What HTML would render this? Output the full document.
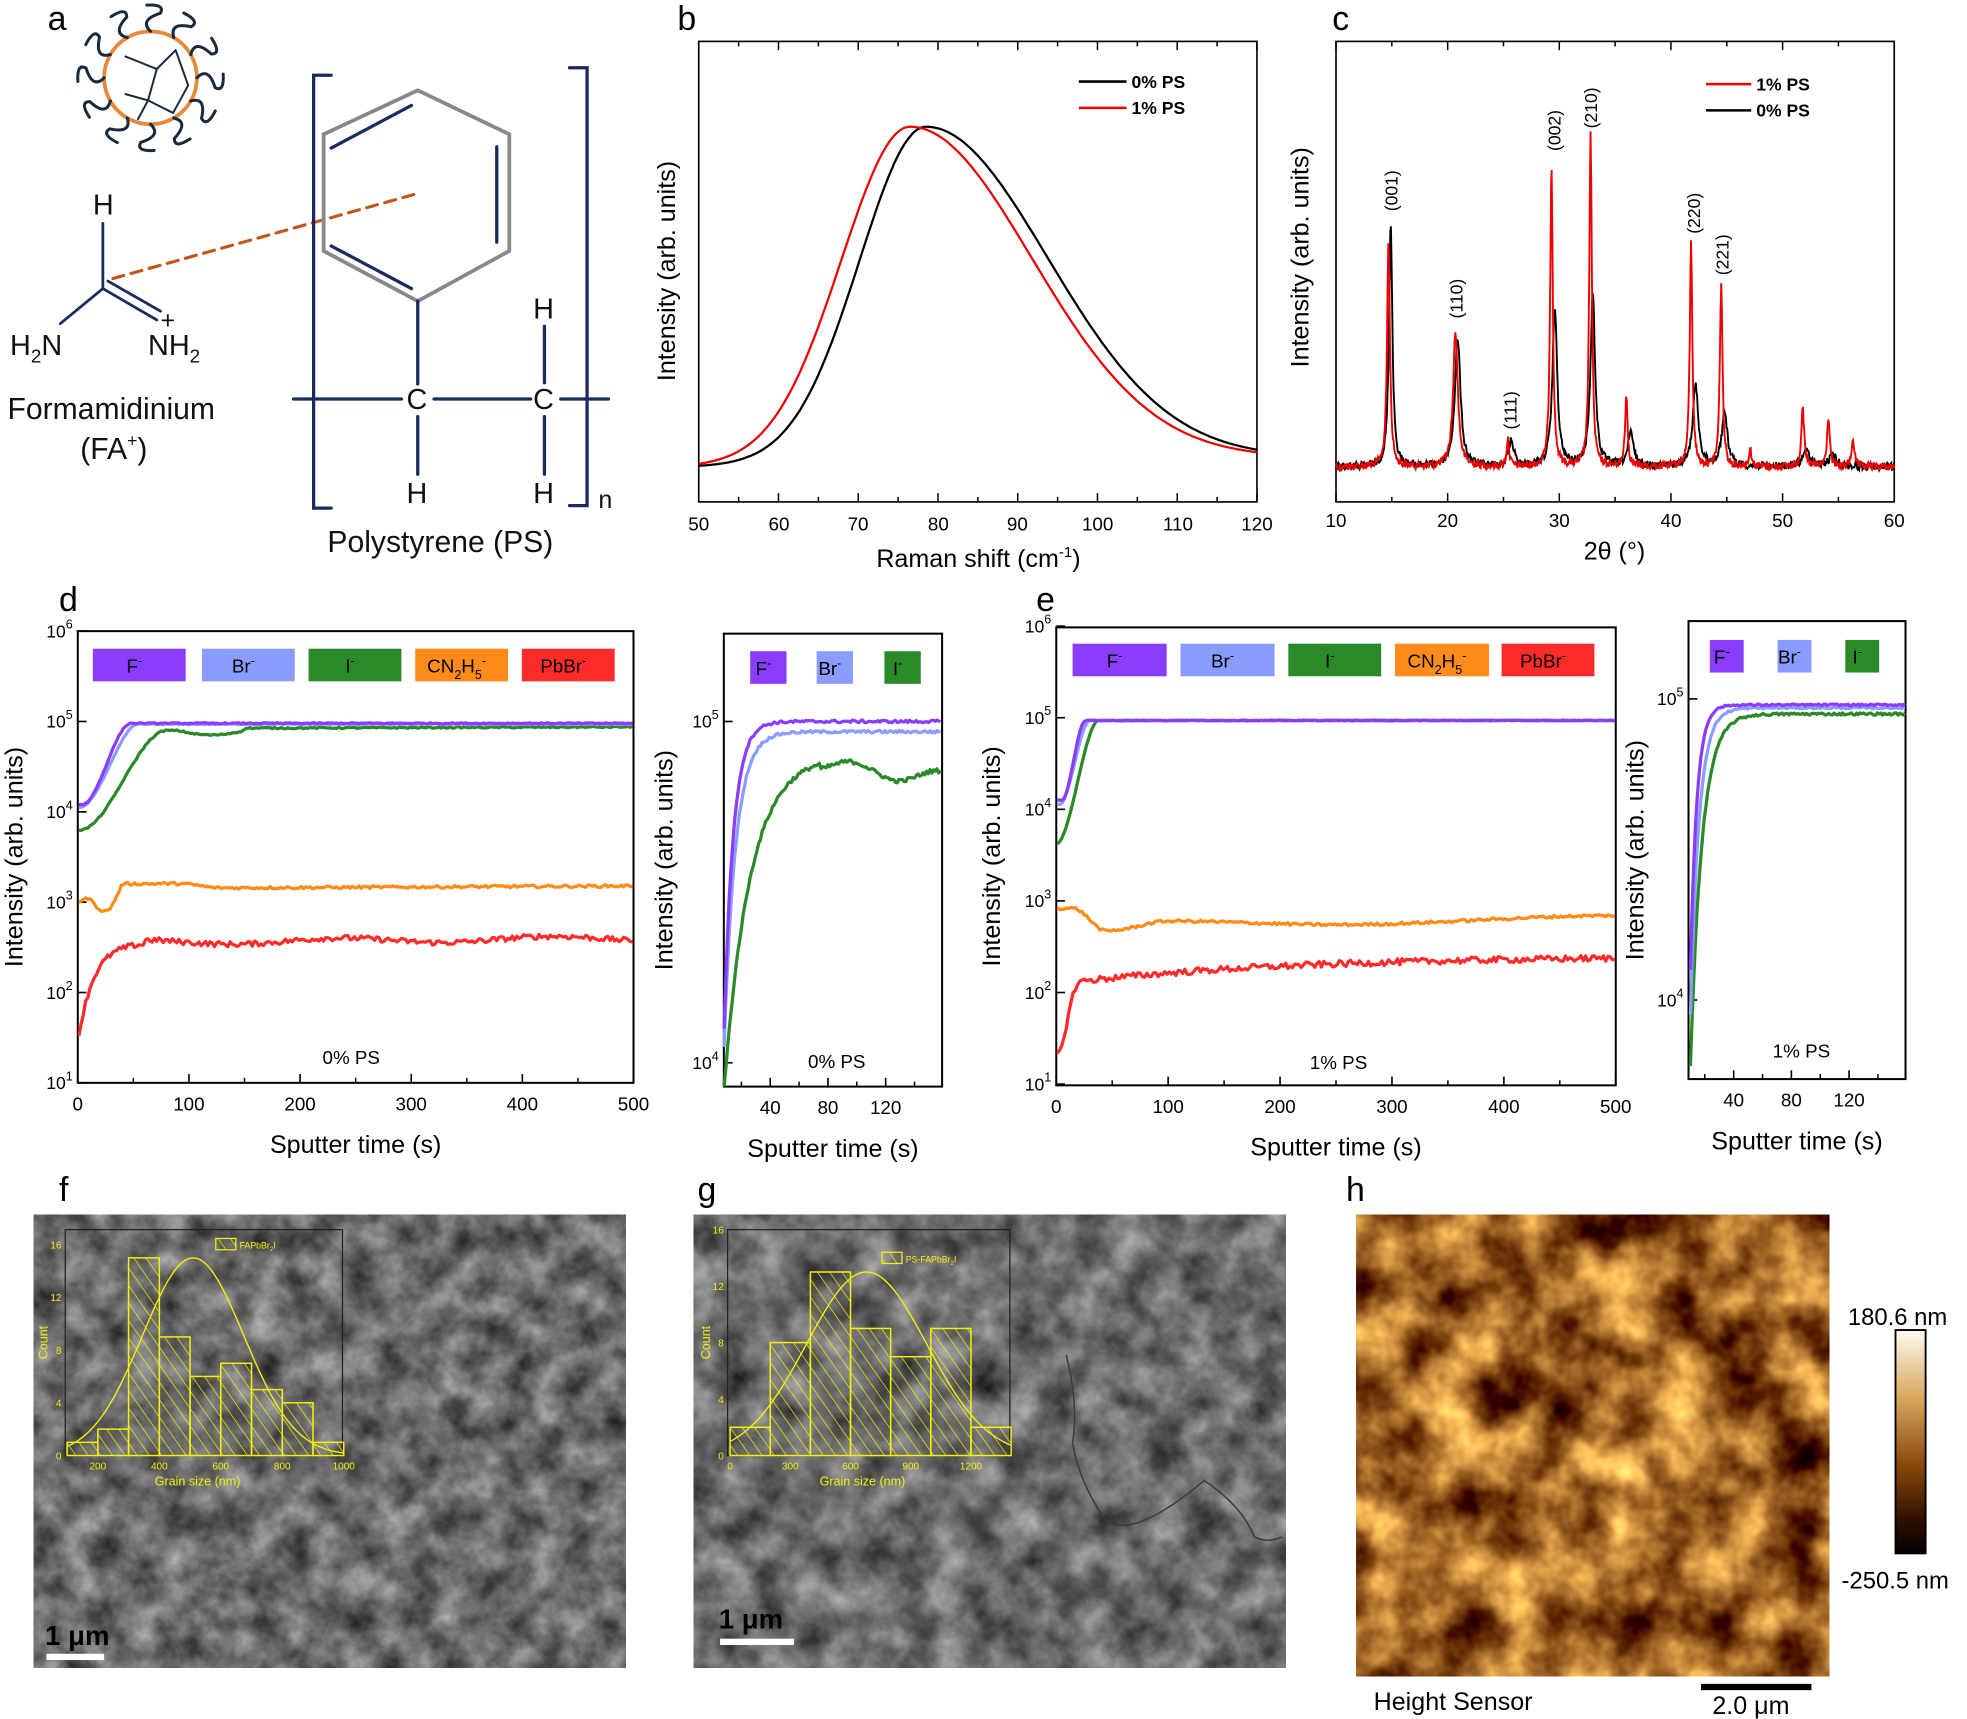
<!DOCTYPE html>
<html><head><meta charset="utf-8"><style>
html,body{margin:0;padding:0;background:#fff;width:1967px;height:1719px;overflow:hidden}
svg{display:block}
text{font-family:"Liberation Sans",sans-serif}
</style></head><body>
<svg id="s" width="1967" height="1719" viewBox="0 0 1568 1370" preserveAspectRatio="none" xmlns="http://www.w3.org/2000/svg">
<defs>
<filter id="sem" x="0" y="0" width="1" height="1" color-interpolation-filters="sRGB">
<feTurbulence type="fractalNoise" baseFrequency="0.04" numOctaves="4" seed="7"/>
<feColorMatrix type="matrix" values="0.7 0 0 0 0.07 0.7 0 0 0 0.07 0.7 0 0 0 0.07 0 0 0 0 1"/>
</filter>
<filter id="sem2" x="0" y="0" width="1" height="1" color-interpolation-filters="sRGB">
<feTurbulence type="fractalNoise" baseFrequency="0.035" numOctaves="4" seed="21"/>
<feColorMatrix type="matrix" values="0.7 0 0 0 0.07 0.7 0 0 0 0.07 0.7 0 0 0 0.07 0 0 0 0 1"/>
</filter>
<filter id="afm" x="0" y="0" width="1" height="1" color-interpolation-filters="sRGB">
<feTurbulence type="fractalNoise" baseFrequency="0.022" numOctaves="4" seed="3"/>
<feColorMatrix type="matrix" values="1.6 0 0 0 -0.17 1.5 0 0 0 -0.35 0.9 0 0 0 -0.3 0 0 0 0 1"/>
</filter>
<linearGradient id="cb" x1="0" y1="0" x2="0" y2="1">
<stop offset="0" stop-color="#fffbf0"/><stop offset="0.3" stop-color="#d9a860"/><stop offset="0.6" stop-color="#8a4a0c"/><stop offset="0.85" stop-color="#301000"/><stop offset="1" stop-color="#000"/>
</linearGradient>
<pattern id="hatch" width="8" height="8" patternUnits="userSpaceOnUse" patternTransform="rotate(-35)">
<line x1="0" y1="0" x2="0" y2="8" stroke="#ffff00" stroke-width="1"/>
</pattern>
</defs>

<g font-size="27">
<text x="38" y="24">a</text><text x="540" y="24">b</text><text x="1062" y="24">c</text>
<text x="47" y="487">d</text><text x="826" y="487">e</text>
<text x="47" y="957">f</text><text x="556" y="957">g</text><text x="1073" y="957">h</text>
</g>

<g id="pa" fill="none" stroke-linecap="round">
<circle cx="120" cy="62" r="37" stroke="#e8883a" stroke-width="3"/>
<g stroke="#1a2a3e" stroke-width="1.6">
<path d="M100 45 L125 55 L140 40 M125 55 L118 80 L138 90 M118 80 L100 75 M140 40 L150 68 L138 90 M110 95 L118 80"/>
</g>
<g id="lig" stroke="#1a2a3e" stroke-width="2.4"></g>
<g stroke="#1a2a5e" stroke-width="2.2">
<line x1="82" y1="178" x2="82" y2="230"/>
<line x1="82" y1="230" x2="125" y2="255"/><line x1="86" y1="224" x2="128" y2="248"/>
<line x1="82" y1="230" x2="48" y2="258"/>
</g>
<line x1="90" y1="222" x2="330" y2="155" stroke="#c0561a" stroke-width="2.5" stroke-dasharray="9,6"/>
<polygon points="333,72 406,107 406,200 333,240 258,200 258,107" stroke="#888" stroke-width="3"/>
<g stroke="#1a2a5e" stroke-width="2.6">
<line x1="264" y1="118" x2="328" y2="84"/><line x1="396" y1="117" x2="396" y2="193"/><line x1="264" y1="196" x2="328" y2="230"/>
<line x1="333" y1="240" x2="333" y2="306"/>
<line x1="234" y1="318" x2="320" y2="318"/><line x1="346" y1="318" x2="423" y2="318"/><line x1="447" y1="318" x2="485" y2="318"/>
<line x1="333" y1="332" x2="333" y2="378"/><line x1="434" y1="260" x2="434" y2="305"/><line x1="434" y1="332" x2="434" y2="378"/>
<polyline points="264,60 250,60 250,405 264,405"/><polyline points="454,54 468,54 468,403 454,403"/>
</g>
</g>
<g font-size="23" fill="#111">
<text x="74" y="171">H</text>
<text x="8" y="283">H<tspan font-size="15" dy="6">2</tspan><tspan dy="-6">N</tspan></text>
<text x="118" y="283">NH<tspan font-size="15" dy="6">2</tspan></text>
<text x="128" y="262" font-size="20">+</text>
<text x="6" y="334" font-size="24">Formamidinium</text>
<text x="64" y="366" font-size="24">(FA<tspan font-size="14" dy="-10">+</tspan><tspan dy="10">)</tspan></text>
<text x="324" y="326">C</text><text x="425" y="326">C</text>
<text x="324" y="401">H</text><text x="425" y="401">H</text><text x="425" y="254">H</text>
<text x="477" y="405" font-size="20">n</text>
<text x="261" y="440" font-size="24">Polystyrene (PS)</text>
</g>

<g>
<rect x="557" y="33" width="445" height="367" fill="none" stroke="#000" stroke-width="1.3"/>
<g id="btk" stroke="#000" stroke-width="1.2"></g>
<g font-size="15" text-anchor="middle">
<text x="557" y="423">50</text><text x="621" y="423">60</text><text x="684" y="423">70</text><text x="748" y="423">80</text><text x="811" y="423">90</text><text x="875" y="423">100</text><text x="939" y="423">110</text><text x="1002" y="423">120</text>
<text x="780" y="452" font-size="20">Raman shift (cm<tspan font-size="12" dy="-8">-1</tspan><tspan dy="8">)</tspan></text>
<text transform="translate(538,216) rotate(-90)" font-size="20">Intensity (arb. units)</text>
</g>
<path id="bk" fill="none" stroke="#000" stroke-width="1.8"/>
<path id="br" fill="none" stroke="#e00" stroke-width="1.8"/>
<line x1="860" y1="65" x2="898" y2="65" stroke="#000" stroke-width="2"/><line x1="860" y1="86" x2="898" y2="86" stroke="#e00" stroke-width="2"/>
<text x="902" y="70" font-size="14" font-weight="bold">0% PS</text><text x="902" y="91" font-size="14" font-weight="bold">1% PS</text>
</g>

<g>
<rect x="1065" y="33" width="445" height="367" fill="none" stroke="#000" stroke-width="1.3"/>
<g id="ctk" stroke="#000" stroke-width="1.2"></g>
<g font-size="15" text-anchor="middle">
<text x="1065" y="420">10</text><text x="1154" y="420">20</text><text x="1243" y="420">30</text><text x="1332" y="420">40</text><text x="1421" y="420">50</text><text x="1510" y="420">60</text>
<text x="1287" y="446" font-size="20">2θ (°)</text>
<text transform="translate(1043,205) rotate(-90)" font-size="20">Intensity (arb. units)</text>
</g>
<path id="ck" fill="none" stroke="#000" stroke-width="1.5"/>
<path id="cr" fill="none" stroke="#e00" stroke-width="1.5"/>
<g font-size="14" text-anchor="middle">
<text transform="translate(1114,152) rotate(-90)">(001)</text>
<text transform="translate(1166,238) rotate(-90)">(110)</text>
<text transform="translate(1209,327) rotate(-90)">(111)</text>
<text transform="translate(1244,104) rotate(-90)">(002)</text>
<text transform="translate(1273,86) rotate(-90)">(210)</text>
<text transform="translate(1355,170) rotate(-90)">(220)</text>
<text transform="translate(1378,203) rotate(-90)">(221)</text>
</g>
<line x1="1360" y1="67" x2="1396" y2="67" stroke="#e00" stroke-width="2"/><line x1="1360" y1="88" x2="1396" y2="88" stroke="#000" stroke-width="2"/>
<text x="1400" y="72" font-size="14" font-weight="bold">1% PS</text><text x="1400" y="93" font-size="14" font-weight="bold">0% PS</text>
</g>

<g id="de"></g>

<rect x="27" y="968" width="472" height="361" fill="#6d6d6d"/>
<rect x="27" y="968" width="472" height="361" filter="url(#sem)"/>
<g id="hf"></g>
<text x="36" y="1311" font-size="22" font-weight="bold" fill="#000">1 μm</text>
<rect x="37" y="1318" width="46" height="5" fill="#fff"/>
<rect x="553" y="968" width="472" height="361" fill="#6d6d6d"/>
<rect x="553" y="968" width="472" height="361" filter="url(#sem2)"/>
<path d="M850 1080 Q860 1120 855 1150 Q860 1180 880 1210 Q900 1230 960 1180 Q990 1200 1000 1225 Q1010 1230 1022 1225" fill="none" stroke="#3a3a3a" stroke-width="1.2"/>
<g id="hg"></g>
<text x="573" y="1298" font-size="22" font-weight="bold" fill="#000">1 μm</text>
<rect x="574" y="1306" width="59" height="5" fill="#fff"/>
<rect x="1081" y="968" width="377" height="368" fill="#9a5a1c"/>
<rect x="1081" y="968" width="377" height="368" filter="url(#afm)"/>
<rect x="1511" y="1060" width="24" height="178" fill="url(#cb)" stroke="#000" stroke-width="1.5"/>
<text x="1473" y="1056" font-size="19">180.6 nm</text>
<text x="1468" y="1266" font-size="19">-250.5 nm</text>
<text x="1095" y="1363" font-size="20">Height Sensor</text>
<rect x="1356" y="1342" width="88" height="5" fill="#000"/>
<text x="1365" y="1366" font-size="20">2.0 μm</text>
</svg>
<script>
(function(){
var NS="http://www.w3.org/2000/svg";
function el(p,t,a,txt){var e=document.createElementNS(NS,t);for(var k in a)e.setAttribute(k,a[k]);if(txt!==undefined)e.textContent=txt;p.appendChild(e);return e;}
var seed=12345;function rnd(){seed=(seed*1103515245+12345)%2147483648;return seed/2147483648;}
function nz(a){return (rnd()-0.5)*2*a;}
function P(pts){return "M"+pts.map(function(p){return p[0].toFixed(1)+","+p[1].toFixed(1)}).join("L");}
var lig=document.getElementById("lig");
for(var i=0;i<12;i++){var a=i*Math.PI/6;var cx=120,cy=62;var x1=cx+37*Math.cos(a),y1=cy+37*Math.sin(a);var x2=cx+52*Math.cos(a+0.15),y2=cy+52*Math.sin(a+0.15);var x3=cx+58*Math.cos(a-0.05),y3=cy+58*Math.sin(a-0.05);
el(lig,"path",{d:"M"+x1+","+y1+" Q"+(cx+47*Math.cos(a-0.2))+","+(cy+47*Math.sin(a-0.2))+" "+x2+","+y2+" Q"+(cx+60*Math.cos(a+0.2))+","+(cy+60*Math.sin(a+0.2))+" "+x3+","+y3});}
var btk=document.getElementById("btk");
for(var v=50;v<=120;v+=5){var x=557+(v-50)*6.357;el(btk,"line",{x1:x,y1:400,x2:x,y2:v%10==0?393:396});el(btk,"line",{x1:x,y1:33,x2:x,y2:v%10==0?40:37});}
function bc(pk,sl,sr){var pts=[];for(var t=50;t<=120;t+=0.25){var s=t<pk?sl:sr;var g=Math.exp(-(t-pk)*(t-pk)/(2*s*s));var base=372-7*(t-50)/70;pts.push([557+(t-50)*6.357,base-(base-101)*g]);}return P(pts);}
document.getElementById("bk").setAttribute("d",bc(78.5,8.3,15.3));
document.getElementById("br").setAttribute("d",bc(76.5,8.6,15.3));
var ctk=document.getElementById("ctk");
for(var v=10;v<=60;v+=5){var x=1065+(v-10)*8.9;el(ctk,"line",{x1:x,y1:400,x2:x,y2:v%10==0?393:396});el(ctk,"line",{x1:x,y1:33,x2:x,y2:v%10==0?40:37});}
function xrd(pk,g){var pts=[];for(var t=10;t<=60;t+=0.06){var y=372;for(var j=0;j<pk.length;j++){var d=(t-pk[j][0])/(pk[j][2]||g);y-=pk[j][1]/(1+d*d);}y+=nz(3);pts.push([1065+(t-10)*8.9,y]);}return P(pts);}
var redP=[[14.7,182,0.15],[20.7,108,0.25],[25.4,22],[29.3,242],[32.8,265],[36.0,56],[41.8,178],[44.5,147],[47.1,14],[51.8,50],[54.1,40],[56.3,23]];
var blkP=[[14.9,194,0.18],[20.9,102,0.3],[25.7,20,0.3],[29.6,127,0.25],[33.0,137,0.25],[36.4,26,0.3],[42.2,65,0.3],[44.8,44,0.3],[52.1,12,0.4],[54.5,9,0.4]];
document.getElementById("cr").setAttribute("d",xrd(redP,0.14));
document.getElementById("ck").setAttribute("d",xrd(blkP,0.2));
var de=document.getElementById("de");
function sm(t,a,b){var x=Math.max(0,Math.min(1,(t-a)/(b-a)));return x*x*(3-2*x);}
function panel(o){
 el(de,"rect",{x:o.x0,y:o.y0,width:o.x1-o.x0,height:o.y1-o.y0,fill:"none",stroke:"#000","stroke-width":1.6});
 function X(t){return o.xa+(t-o.ta)*o.xs;}
 function Y(lv){return o.yd-(lv-o.ld)*o.pd;}
 for(var i=0;i<o.xt.length;i++){var t=o.xt[i];el(de,"line",{x1:X(t),y1:o.y1,x2:X(t),y2:o.y1-7,stroke:"#000","stroke-width":1.3});el(de,"text",{x:X(t),y:o.y1+22,"font-size":15,"text-anchor":"middle"},""+t);}
 if(o.minor)for(var t=o.minor[0];t<=o.minor[1];t+=o.minor[2]){el(de,"line",{x1:X(t),y1:o.y1,x2:X(t),y2:o.y1-4,stroke:"#000","stroke-width":1.2});}
 for(var i=0;i<o.yt.length;i++){var lv=o.yt[i];var y=Y(lv);el(de,"line",{x1:o.x0,y1:y,x2:o.x0+7,y2:y,stroke:"#000","stroke-width":1.3});
  var tx=el(de,"text",{x:o.x0-4,y:y+5,"font-size":14,"text-anchor":"end"},"10");el(tx,"tspan",{dy:-7,"font-size":10},""+lv);}
 for(var i=0;i<o.leg.length;i++){var L=o.leg[i];el(de,"rect",{x:L[0],y:o.ly,width:L[1]-L[0],height:o.lh,fill:L[2]});var tt=el(de,"text",{x:(L[0]+L[1])/2-4,y:o.ly+o.lh/2+6,"font-size":15,"text-anchor":"middle"});tt.innerHTML=L[3];}
 for(var i=0;i<o.ser.length;i++){var S=o.ser[i];var pts=[];for(var t=o.tmin;t<=o.tmax;t+=o.dt){var lv=S[1](t)+nz(S[2]);var y=Math.min(o.y1,Y(lv));pts.push([X(t),y]);}el(de,"path",{d:P(pts),fill:"none",stroke:S[0],"stroke-width":2.6,"stroke-linejoin":"round"});}
 el(de,"text",{x:o.lab[0],y:o.lab[1],"font-size":15,"text-anchor":"middle"},o.lab[2]);
 el(de,"text",{x:(o.x0+o.x1)/2,y:o.y1+56,"font-size":20,"text-anchor":"middle"},"Sputter time (s)");
 el(de,"text",{transform:"translate("+o.yl+","+((o.y0+o.y1)/2)+") rotate(-90)","font-size":20,"text-anchor":"middle"},"Intensity (arb. units)");
}
var PU="#8b3dff",BL="#8a9cff",GR="#2a8a2a",OR="#ff8c1a",RD="#ff2a2a";
var sup='<tspan font-size="10" dy="-6">-</tspan>';
function legs(b){return [[b[0],b[1],PU,"F"+sup],[b[2],b[3],BL,"Br"+sup],[b[4],b[5],GR,"I"+sup],[b[6],b[7],OR,'CN<tspan font-size="10" dy="5">2</tspan><tspan dy="-5">H</tspan><tspan font-size="10" dy="5">5</tspan><tspan font-size="10" dy="-11">-</tspan>'],[b[8],b[9],RD,"PbBr"+sup]];}
panel({x0:62,x1:505,y0:503,y1:863,xa:62,ta:0,xs:0.886,yd:575,ld:5,pd:72,xt:[0,100,200,300,400,500],minor:[50,450,100],yt:[1,2,3,4,5,6],
 leg:legs([74,148,161,235,246,320,331,405,416,490]),ly:517,lh:26,tmin:1,tmax:500,dt:2,lab:[280,848,"0% PS"],yl:18,
 ser:[[RD,function(t){return t<60?1.45+1.1*(1-Math.exp(-t/14)):2.55+0.03*Math.sin(t/30)+t*0.0001},0.03],
 [OR,function(t){return t<10?3.0+0.05*t/10:t<40?3.05-0.15*Math.sin((t-10)/30*Math.PI)+0.18*sm(t,25,45):3.2-0.05*sm(t,90,130)+0.03*t/500},0.015],
 [GR,function(t){return t<90?3.8+1.1*sm(t,2,80):t<150?4.9-0.05*Math.sin((t-90)/60*Math.PI):4.92+0.02*t/500},0.008],
 [BL,function(t){return 4.05+0.92*sm(t,2,55)},0.006],
 [PU,function(t){return 4.08+0.9*sm(t,4,48)},0.006]]});
panel({x0:577,x1:751,y0:505,y1:866,xa:614,ta:40,xs:1.15,yd:575,ld:5,pd:272,xt:[40,80,120],minor:[20,140,40],yt:[4,5],
 leg:[[598,627,PU,"F"+sup],[651,680,BL,"Br"+sup],[705,734,GR,"I"+sup]],ly:519,lh:26,tmin:8,tmax:159,dt:1.2,lab:[667,851,"0% PS"],yl:536,
 ser:[[GR,function(t){return t<75?3.92+0.98*(1-Math.exp(-(t-8)/18)):4.86+0.03*Math.sin((t-75)/20)-0.05*sm(t,90,125)+0.07*sm(t,125,158)},0.006],
 [BL,function(t){return 4.05+0.92*(1-Math.exp(-(t-8)/8))},0.004],
 [PU,function(t){return 4.1+0.9*(1-Math.exp(-(t-8)/6.5))},0.004]]});
panel({x0:842,x1:1288,y0:500,y1:865,xa:842,ta:0,xs:0.892,yd:572,ld:5,pd:73,xt:[0,100,200,300,400,500],minor:[50,450,100],yt:[1,2,3,4,5,6],
 leg:legs([855,930,941,1016,1027,1101,1112,1187,1197,1271]),ly:513,lh:26,tmin:1,tmax:500,dt:2,lab:[1067,852,"1% PS"],yl:797,
 ser:[[RD,function(t){return t<20?1.3+0.8*sm(t,0,20):2.12+0.28*(1-Math.exp(-(t-20)/200))},0.035],
 [OR,function(t){return t<15?2.92:t<50?2.92-0.25*sm(t,15,45):2.68+0.1*sm(t,50,100)-0.04*sm(t,100,250)+0.1*sm(t,250,500)},0.015],
 [GR,function(t){return 3.62+1.35*sm(t,0,38)},0.005],
 [BL,function(t){return 4.05+0.92*sm(t,3,30)},0.004],
 [PU,function(t){return 4.1+0.87*sm(t,5,26)},0.004]]});
panel({x0:1346,x1:1519,y0:495,y1:860,xa:1382,ta:40,xs:1.15,yd:557,ld:5,pd:240,xt:[40,80,120],minor:[20,140,40],yt:[4,5],
 leg:[[1363,1390,PU,"F"+sup],[1417,1444,BL,"Br"+sup],[1471,1498,GR,"I"+sup]],ly:510,lh:26,tmin:10,tmax:159,dt:1.2,lab:[1436,843,"1% PS"],yl:1310,
 ser:[[GR,function(t){return 3.78+1.17*(1-Math.exp(-(t-10)/8))},0.004],
 [BL,function(t){return 3.95+1.02*(1-Math.exp(-(t-10)/6))},0.003],
 [PU,function(t){return 4.1+0.88*(1-Math.exp(-(t-10)/4.5))},0.003]]});
function hist(g,o){
 var G=document.getElementById(g);var Y="#f2ee10";
 el(G,"rect",{x:o.x0,y:o.y0,width:o.x1-o.x0,height:o.y1-o.y0,fill:"none",stroke:"#222","stroke-width":1});
 function X(v){return o.xa+(v-o.va)*o.xs;}function YY(c){return o.y1-c*o.cs;}
 for(var i=0;i<o.bars.length;i++){var b=o.bars[i];var x=X(b[0]),w=X(b[1])-x,y=YY(b[2]);el(G,"rect",{x:x,y:y,width:w,height:o.y1-y,fill:"url(#hatch)",stroke:Y,"stroke-width":1.2});}
 var pts=[];for(var v=o.vmin;v<=o.vmax;v+=5){pts.push([X(v),YY(o.pk*Math.exp(-(v-o.mu)*(v-o.mu)/(2*o.sg*o.sg)))]);}
 el(G,"path",{d:P(pts),fill:"none",stroke:Y,"stroke-width":1.1});
 for(var i=0;i<o.xt.length;i++){el(G,"text",{x:X(o.xt[i]),y:o.y1+11,"font-size":8,fill:Y,"text-anchor":"middle"},""+o.xt[i]);}
 for(var c=0;c<=16;c+=4){el(G,"text",{x:o.x0-3,y:YY(c)+3,"font-size":8,fill:Y,"text-anchor":"end"},""+c);}
 el(G,"text",{x:(o.x0+o.x1)/2-5,y:o.y1+24,"font-size":10,fill:Y,"text-anchor":"middle"},"Grain size (nm)");
 el(G,"text",{transform:"translate("+(o.x0-14)+","+((o.y0+o.y1)/2)+") rotate(-90)","font-size":10,fill:Y,"text-anchor":"middle"},"Count");
 el(G,"rect",{x:o.lx,y:o.ly,width:16,height:9,fill:"url(#hatch)",stroke:Y,"stroke-width":1});
 var t=el(G,"text",{x:o.lx+19,y:o.ly+8,"font-size":7,fill:Y});t.innerHTML=o.lt;
}
hist("hf",{x0:52,x1:273,y0:980,y1:1160,xa:78,va:200,xs:0.245,cs:10.5,
 bars:[[100,200,1],[200,300,2],[300,400,15],[400,500,9],[500,600,6],[600,700,7],[700,800,5],[800,900,4],[900,1000,1]],
 vmin:100,vmax:1000,pk:15,mu:510,sg:165,xt:[200,400,600,800,1000],lx:172,ly:987,lt:'FAPbBr<tspan font-size="5" dy="2">2</tspan><tspan dy="-2">I</tspan>'});
hist("hg",{x0:580,x1:805,y0:980,y1:1160,xa:582,va:0,xs:0.16,cs:11.25,
 bars:[[0,200,2],[200,400,8],[400,600,13],[600,800,9],[800,1000,7],[1000,1200,9],[1200,1400,2]],
 vmin:0,vmax:1400,pk:13,mu:680,sg:300,xt:[0,300,600,900,1200],lx:703,ly:998,lt:'PS-FAPbBr<tspan font-size="5" dy="2">2</tspan><tspan dy="-2">I</tspan>'});
})();
</script>
</body></html>
